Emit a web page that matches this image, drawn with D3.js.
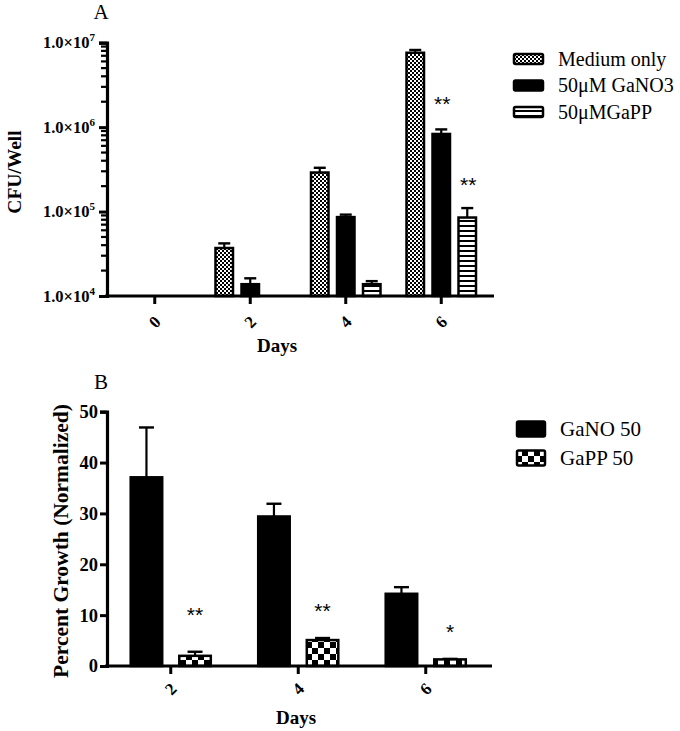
<!DOCTYPE html>
<html><head><meta charset="utf-8">
<script src="https://cdn.jsdelivr.net/npm/d3@7"></script>
<style>body{margin:0;background:#fff}svg{display:block}</style>
</head><body>
<svg id="c" width="680" height="731"></svg>
<script>
// ---------- DATA ----------
const daysA = ["0","2","4","6"];
const seriesA = ["Medium only","50\u03BCM GaNO3","50\u03BCMGaPP"];
const mediumOnly    = [1e4, 3.7e4, 2.9e5, 7.6e6];
const mediumOnlyErr = [0, 0.5e4, 0.4e5, 0.6e6];
const gaNO3         = [1e4, 1.38e4, 8.6e4, 8.3e5];
const gaNO3Err      = [0, 0.24e4, 0.6e4, 1.1e5];
const gaPP          = [1e4, 1e4, 1.38e4, 8.5e4];
const gaPPErr       = [0, 0, 0.12e4, 2.5e4];
const yTicksA = [1e4, 1e5, 1e6, 1e7];
const starsA = [{day:"6", series:"50\u03BCM GaNO3", text:"**", at:2.15e6},
                {day:"6", series:"50\u03BCMGaPP", text:"**", at:2.36e5}];

const daysB = ["2","4","6"];
const seriesB = ["GaNO 50","GaPP 50"];
const gaNO50    = [37.1, 29.4, 14.2];
const gaNO50Err = [9.8, 2.5, 1.3];
const gaPP50    = [2.0, 5.1, 1.3];
const gaPP50Err = [0.8, 0.4, 0.1];
const yTicksB = [0,10,20,30,40,50];
const starsB = [{day:"2", text:"**", at:11.0},{day:"4", text:"**", at:11.7},{day:"6", text:"*", at:7.7}];

// ---------- SETUP ----------
const svg = d3.select("#c");
const SERIF = "'Liberation Serif','Times New Roman',serif";
const SANS = "'Liberation Sans',Arial,sans-serif";
const defs = svg.append("defs");
const p1 = defs.append("pattern").attr("id","fineCheck").attr("patternUnits","userSpaceOnUse").attr("width",4).attr("height",4);
p1.append("rect").attr("width",4).attr("height",4).attr("fill","#fff");
p1.append("rect").attr("width",2).attr("height",2).attr("fill","#000");
p1.append("rect").attr("x",2).attr("y",2).attr("width",2).attr("height",2).attr("fill","#000");
const p2 = defs.append("pattern").attr("id","hStripe").attr("patternUnits","userSpaceOnUse").attr("width",4).attr("height",5);
p2.append("rect").attr("width",4).attr("height",5).attr("fill","#fff");
p2.append("rect").attr("y",0).attr("width",4).attr("height",2).attr("fill","#000");
const p3 = defs.append("pattern").attr("id","bigCheck").attr("patternUnits","userSpaceOnUse").attr("width",12).attr("height",12);
p3.append("rect").attr("width",12).attr("height",12).attr("fill","#fff");
p3.append("rect").attr("width",6).attr("height",6).attr("fill","#000");
p3.append("rect").attr("x",6).attr("y",6).attr("width",6).attr("height",6).attr("fill","#000");

const fillA = {"Medium only":"url(#fineCheck)","50\u03BCM GaNO3":"#000","50\u03BCMGaPP":"url(#hStripe)"};
const fillB = {"GaNO 50":"#000","GaPP 50":"url(#bigCheck)"};

// ---------- PANEL A ----------
const valsA = [mediumOnly, gaNO3, gaPP];
const errsA = [mediumOnlyErr, gaNO3Err, gaPPErr];
const x0A = d3.scaleBand().domain(daysA).range([107, 489]);
const x1A = d3.scaleBand().domain(seriesA).range([-36, 36]).paddingInner(6/26).paddingOuter(0);
const yA = d3.scaleLog().domain([1e4, 1e7]).range([296, 42.7]);
const gA = svg.append("g");
const cxA = (d) => x0A(d) + x0A.bandwidth()/2;

const recA = [];
daysA.forEach((d,i)=>seriesA.forEach((s,j)=>recA.push({day:d, s, v:valsA[j][i], e:errsA[j][i]})));

gA.selectAll(".errA").data(recA.filter(r=>r.e>0)).join("g").each(function(r){
  const g = d3.select(this);
  const x = cxA(r.day) + x1A(r.s) + x1A.bandwidth()/2;
  g.append("line").attr("x1",x).attr("x2",x).attr("y1",yA(r.v)).attr("y2",yA(r.v+r.e)).attr("stroke","#000").attr("stroke-width",2.2);
  g.append("line").attr("x1",x-6).attr("x2",x+6).attr("y1",yA(r.v+r.e)).attr("y2",yA(r.v+r.e)).attr("stroke","#000").attr("stroke-width",2.4);
});
gA.selectAll(".barA").data(recA).join("rect")
  .attr("x", r=>cxA(r.day)+x1A(r.s)+1.25)
  .attr("width", x1A.bandwidth()-2.5)
  .attr("y", r=>yA(r.v))
  .attr("height", r=>Math.max(0, yA(1e4)-yA(r.v)))
  .attr("fill", r=>fillA[r.s]).attr("stroke","#000").attr("stroke-width",2.5);

// minor log ticks
const minorA = [];
for (let e = 4; e < 7; e++) for (let m = 2; m <= 9; m++) minorA.push(m * Math.pow(10, e));
gA.append("g").selectAll("line").data(minorA).join("line")
  .attr("x1",107).attr("x2",101).attr("y1",d=>yA(d)).attr("y2",d=>yA(d)).attr("stroke","#000").attr("stroke-width",2.2);
const axA = gA.append("g").attr("transform","translate(107,0)")
  .call(d3.axisLeft(yA).tickValues(yTicksA).tickSizeOuter(0).tickSize(8).tickFormat(""));
axA.select(".domain").attr("stroke-width",3.2);
axA.selectAll(".tick line").attr("stroke-width",3);
axA.selectAll(".tick").append("text")
  .attr("x",-12).attr("y",5).attr("text-anchor","end").attr("fill","#000")
  .attr("font-family",SERIF).attr("font-weight","bold").attr("font-size",16.5)
  .each(function(d){
    const t = d3.select(this);
    t.append("tspan").text("1.0\u00D710");
    t.append("tspan").attr("dy",-7).attr("font-size",11).text(Math.round(Math.log10(d)));
  });
const axXA = gA.append("g").attr("transform","translate(0,296)")
  .call(d3.axisBottom(x0A).tickSizeOuter(0).tickSize(8).tickFormat(""));
axXA.select(".domain").attr("d","M105,0H494").attr("stroke-width",3.2);
axXA.selectAll(".tick line").attr("stroke-width",3);
axXA.selectAll(".tick").append("text").text(d=>d)
  .attr("transform","translate(0,26) rotate(-45)")
  .attr("text-anchor","middle").attr("dominant-baseline","central").attr("fill","#000")
  .attr("font-family",SERIF).attr("font-weight","bold").attr("font-size",17);

gA.append("text").text("Days").attr("x",277).attr("y",352).attr("text-anchor","middle")
  .attr("font-family",SERIF).attr("font-weight","bold").attr("font-size",19);
gA.append("text").text("CFU/Well").attr("transform","translate(21,172) rotate(-90)").attr("text-anchor","middle")
  .attr("font-family",SERIF).attr("font-weight","bold").attr("font-size",19.5);
gA.append("text").text("A").attr("x",101).attr("y",19).attr("text-anchor","middle")
  .attr("font-family",SERIF).attr("font-size",21);

gA.selectAll(".starA").data(starsA).join("text").text(d=>d.text)
  .attr("x", d=>cxA(d.day)+x1A(d.series)+x1A.bandwidth()/2+1)
  .attr("y", d=>yA(d.at)+12).attr("text-anchor","middle")
  .attr("font-family",SANS).attr("font-size",21);

const legA = gA.append("g");
seriesA.forEach((s,i)=>{
  const y = 59 + i*26.5;
  legA.append("rect").attr("x",514).attr("y",y-5).attr("width",29).attr("height",10).attr("rx",1.5)
    .attr("fill",fillA[s]).attr("stroke","#000").attr("stroke-width",2.5);
  legA.append("text").text(s).attr("x",558).attr("y",y+6.5)
    .attr("font-family",SERIF).attr("font-size",20);
});

// ---------- PANEL B ----------
const valsB = [gaNO50, gaPP50];
const errsB = [gaNO50Err, gaPP50Err];
const x0B = d3.scaleBand().domain(daysB).range([107, 489.5]);
const x1B = d3.scaleBand().domain(seriesB).range([-41.3, 41.3]).paddingInner(0.3).paddingOuter(0);
const yB = d3.scaleLinear().domain([0,50]).range([666, 411.7]);
const gB = svg.append("g");
const cxB = (d) => x0B(d) + x0B.bandwidth()/2;
const recB = [];
daysB.forEach((d,i)=>seriesB.forEach((s,j)=>recB.push({day:d, s, v:valsB[j][i], e:errsB[j][i]})));

gB.selectAll(".errB").data(recB).join("g").each(function(r){
  const g = d3.select(this);
  const x = cxB(r.day) + x1B(r.s) + x1B.bandwidth()/2;
  g.append("line").attr("x1",x).attr("x2",x).attr("y1",yB(r.v)).attr("y2",yB(r.v+r.e)).attr("stroke","#000").attr("stroke-width",2.2);
  g.append("line").attr("x1",x-7.5).attr("x2",x+7.5).attr("y1",yB(r.v+r.e)).attr("y2",yB(r.v+r.e)).attr("stroke","#000").attr("stroke-width",2.4);
});
gB.selectAll(".barB").data(recB).join("rect")
  .attr("x", r=>cxB(r.day)+x1B(r.s)+1.25)
  .attr("width", x1B.bandwidth()-2.5)
  .attr("y", r=>yB(r.v))
  .attr("height", r=>yB(0)-yB(r.v))
  .attr("fill", r=>fillB[r.s]).attr("stroke","#000").attr("stroke-width",2.5);

const axB = gB.append("g").attr("transform","translate(107,0)")
  .call(d3.axisLeft(yB).tickValues(yTicksB).tickSizeOuter(0).tickSize(7).tickFormat(d3.format("d")));
axB.select(".domain").attr("stroke-width",3.2);
axB.selectAll(".tick line").attr("stroke-width",3);
axB.selectAll(".tick text").attr("x",-9).attr("fill","#000")
  .attr("font-family",SERIF).attr("font-weight","bold").attr("font-size",18.5);
const axXB = gB.append("g").attr("transform","translate(0,666)")
  .call(d3.axisBottom(x0B).tickSizeOuter(0).tickSize(8).tickFormat(""));
axXB.select(".domain").attr("d","M105,0H492").attr("stroke-width",3.2);
axXB.selectAll(".tick line").attr("stroke-width",3);
axXB.selectAll(".tick").append("text").text(d=>d)
  .attr("transform","translate(0,23) rotate(-45)")
  .attr("text-anchor","middle").attr("dominant-baseline","central").attr("fill","#000")
  .attr("font-family",SERIF).attr("font-weight","bold").attr("font-size",17);

gB.append("text").text("Days").attr("x",296).attr("y",724).attr("text-anchor","middle")
  .attr("font-family",SERIF).attr("font-weight","bold").attr("font-size",19);
gB.append("text").text("Percent Growth (Normalized)").attr("transform","translate(68,541) rotate(-90)").attr("text-anchor","middle")
  .attr("font-family",SERIF).attr("font-weight","bold").attr("font-size",21.5);
gB.append("text").text("B").attr("x",101).attr("y",389).attr("text-anchor","middle")
  .attr("font-family",SERIF).attr("font-size",21);

gB.selectAll(".starB").data(starsB).join("text").text(d=>d.text)
  .attr("x", d=>cxB(d.day)+x1B("GaPP 50")+x1B.bandwidth()/2)
  .attr("y", d=>yB(d.at)+12).attr("text-anchor","middle")
  .attr("font-family",SANS).attr("font-size",21);

const legB = gB.append("g");
seriesB.forEach((s,i)=>{
  const y = 429 + i*29;
  legB.append("rect").attr("x",517).attr("y",y-7.5).attr("width",28).attr("height",15).attr("rx",1.5)
    .attr("fill",fillB[s]).attr("stroke","#000").attr("stroke-width",2.5);
  legB.append("text").text(s).attr("x",560).attr("y",y+7)
    .attr("font-family",SERIF).attr("font-size",21);
});
</script>
</body></html>
